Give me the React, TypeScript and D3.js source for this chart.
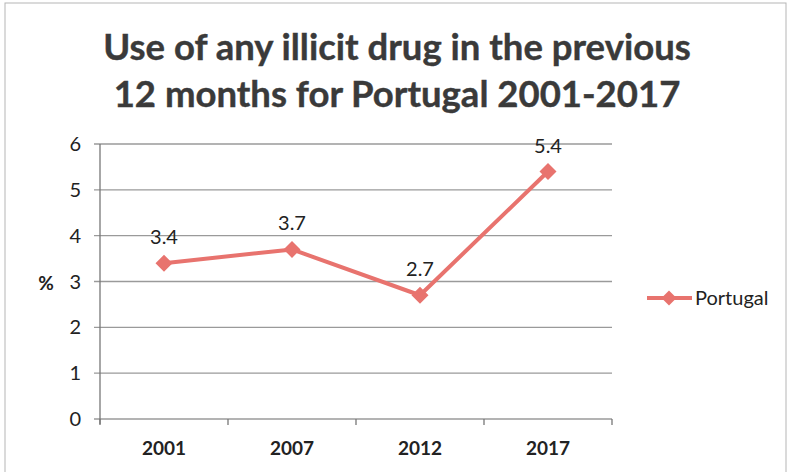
import React from "react";
import * as d3 from "d3";

const years = ["2001", "2007", "2012", "2017"];
const values = [3.4, 3.7, 2.7, 5.4];
const yTicks = [0, 1, 2, 3, 4, 5, 6];
const titleLines = ["Use of any illicit drug in the previous", "12 months for Portugal 2001-2017"];
const seriesName = "Portugal";

const W = 791, H = 472;
const plot = { left: 100, right: 612, top: 144, bottom: 419 };
const color = "#e8736e";
const font = "Lato, 'Open Sans', sans-serif";

export default function App() {
  const x = d3.scaleBand().domain(years).range([plot.left, plot.right]);
  const y = d3.scaleLinear().domain([0, 6]).range([plot.bottom, plot.top]);
  const line = d3.line<number>()
    .x((_, i) => (x(years[i]) as number) + x.bandwidth() / 2)
    .y((d) => y(d));
  const diamond = (cx: number, cy: number, r: number) =>
    `M${cx},${cy - r}L${cx + r},${cy}L${cx},${cy + r}L${cx - r},${cy}Z`;
  const boundaries = [...years.map((d) => x(d) as number), plot.right];

  return (
    <svg width={W} height={H} style={{ position: "absolute", left: 0, top: 0 }}>
      <rect x={0} y={0} width={W} height={H} fill="#fff" />
      <rect x={5} y={3} width={781} height={480} fill="none" stroke="#b5b5b5" strokeWidth={1} />
      {titleLines.map((t, i) => (
        <text key={i} x={397} y={60 + i * 47} textAnchor="middle" fontFamily={font}
          fontWeight="bold" fontSize={36.5} fill="#3a3a3a" stroke="#3a3a3a" strokeWidth={0.4}>{t}</text>
      ))}
      {yTicks.map((t) => (
        <g key={t}>
          <line x1={plot.left - 6} x2={plot.right} y1={y(t)} y2={y(t)} stroke="#9a9a9a" strokeWidth={1.3} />
          <text x={81} y={y(t) + 7} textAnchor="end" fontFamily={font} fontSize={20} fill="#222">{t}</text>
        </g>
      ))}
      <line x1={plot.left} x2={plot.left} y1={plot.top} y2={plot.bottom + 5} stroke="#777" strokeWidth={1.3} />
      {boundaries.map((b, i) => (
        <line key={i} x1={b} x2={b} y1={plot.bottom} y2={plot.bottom + 6} stroke="#777" strokeWidth={1.3} />
      ))}
      {years.map((yr) => (
        <text key={yr} x={(x(yr) as number) + x.bandwidth() / 2} y={455} textAnchor="middle"
          fontFamily={font} fontSize={19} fontWeight="bold" fill="#222">{yr}</text>
      ))}
      <text x={46} y={290} textAnchor="middle" fontFamily={font} fontSize={19} fontWeight="bold" fill="#222">%</text>
      <path d={line(values) || ""} fill="none" stroke={color} strokeWidth={4} strokeLinejoin="round" />
      {values.map((v, i) => {
        const cx = (x(years[i]) as number) + x.bandwidth() / 2;
        return (
          <g key={i}>
            <path d={diamond(cx, y(v), 8.5)} fill={color} />
            <text x={cx} y={y(v) - 19} textAnchor="middle" fontFamily={font} fontSize={20} fill="#222">{v.toFixed(1)}</text>
          </g>
        );
      })}
      <line x1={647} x2={692} y1={298} y2={298} stroke={color} strokeWidth={4} />
      <path d={diamond(669, 298, 7.5)} fill={color} />
      <text x={695} y={305} fontFamily={font} fontSize={20} fill="#222">{seriesName}</text>
    </svg>
  );
}
